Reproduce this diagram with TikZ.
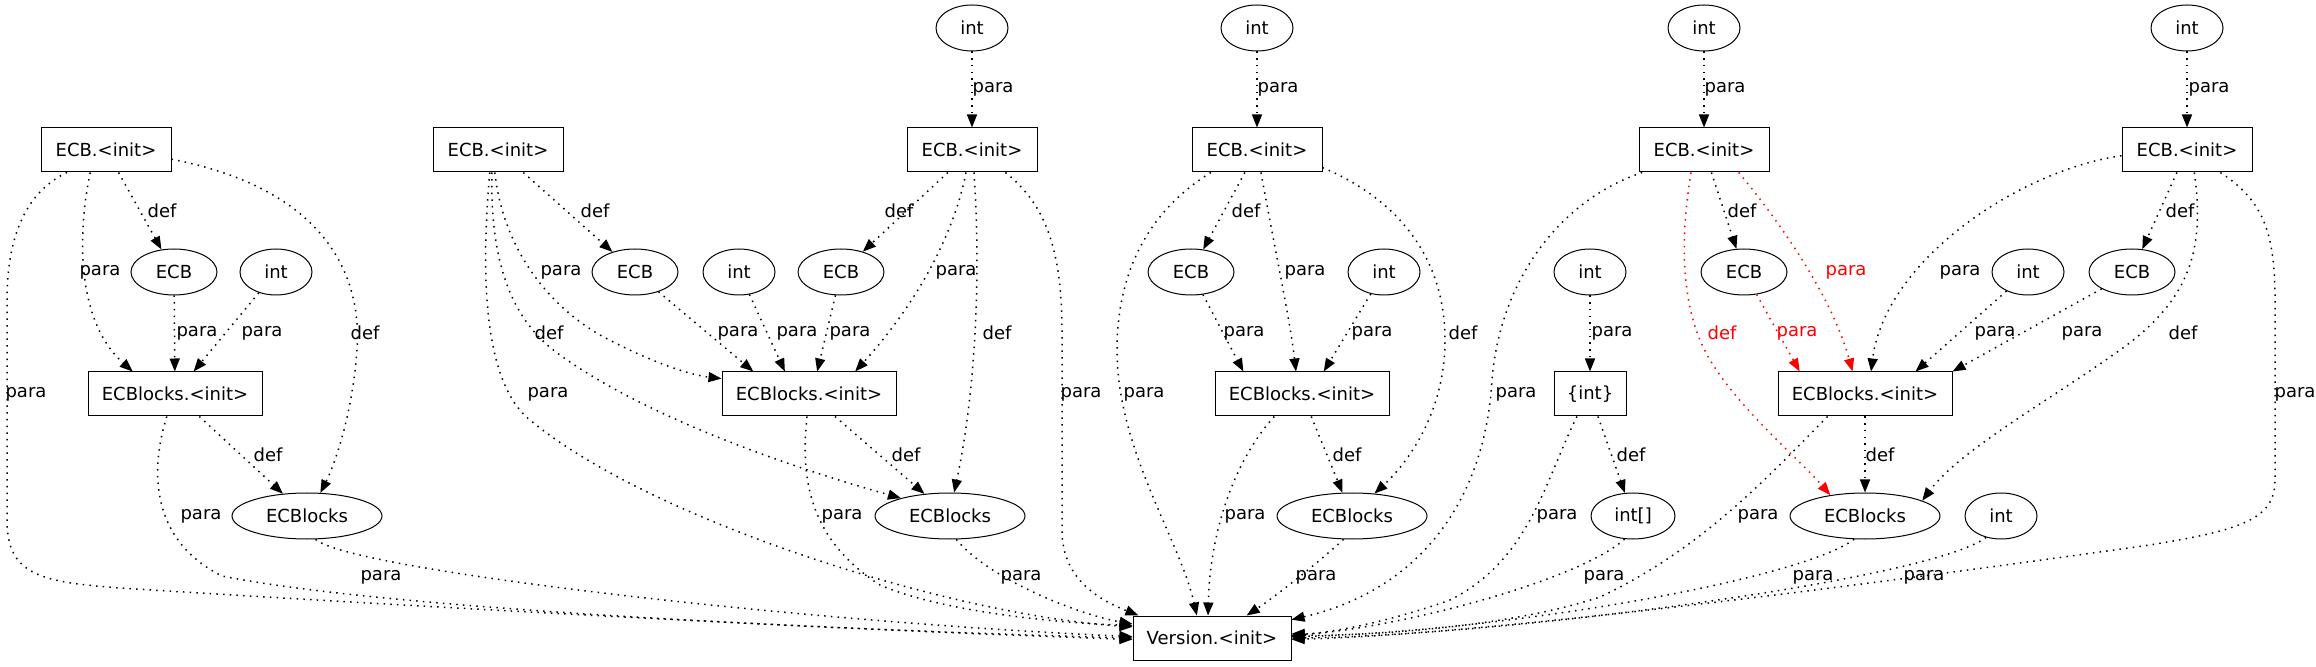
\documentclass[tikz,border=0pt]{standalone}
\usepackage{fontspec}
\setmainfont{DejaVu Sans}
\usetikzlibrary{arrows.meta,shapes.geometric}
\tikzset{
  >={Triangle[length=6.5pt,width=5pt]},
  every node/.style={font=\fontsize{9}{11}\selectfont},
  method/.style={draw,line width=0.5pt,minimum height=22pt,inner sep=1pt},
  initbox/.style={method,minimum width=65pt},
  blockinit/.style={method,minimum width=87pt},
  verbox/.style={method,minimum width=79pt},
  typenode/.style={draw,ellipse,line width=0.5pt,minimum height=23pt,inner sep=0pt},
  inttype/.style={typenode,minimum width=36pt},
  ecbtype/.style={typenode,minimum width=43pt},
  blocktype/.style={typenode,minimum width=75pt},
  dep/.style={->,line width=0.75pt,dash pattern=on 0.75pt off 2.6pt},
  hotdep/.style={dep,draw=red},
  lbl/.style={inner sep=0.5pt},
  hotlbl/.style={lbl,text=red},
}

\begin{document}
\begin{tikzpicture}[x=0.5pt,y=-0.5pt]
\useasboundingbox (0,0) rectangle (2316,667);

% top row
\node[inttype] (intC) at (972,28) {int};
\node[inttype] (intD) at (1257,28) {int};
\node[inttype] (intE) at (1704,28) {int};
\node[inttype] (intF) at (2187,28) {int};

% constructors
\node[initbox] (initA) at (106,150) {ECB.<init>};
\node[initbox] (initB) at (498,150) {ECB.<init>};
\node[initbox] (initC) at (972,150) {ECB.<init>};
\node[initbox] (initD) at (1257,150) {ECB.<init>};
\node[initbox] (initE) at (1704,150) {ECB.<init>};
\node[initbox] (initF) at (2187,150) {ECB.<init>};

% parameter types
\node[ecbtype] (ecbA) at (174,272) {ECB};
\node[inttype] (intA) at (276,272) {int};
\node[ecbtype] (ecbB) at (635,272) {ECB};
\node[inttype] (intB) at (739,272) {int};
\node[ecbtype] (ecbC) at (841,272) {ECB};
\node[ecbtype] (ecbD) at (1191,272) {ECB};
\node[inttype] (intD2) at (1384,272) {int};
\node[inttype] (intG) at (1590,272) {int};
\node[ecbtype] (ecbE) at (1744,272) {ECB};
\node[inttype] (intF2) at (2028,272) {int};
\node[ecbtype] (ecbF) at (2132,272) {ECB};

% block constructors
\node[blockinit] (blkiA) at (175,394) {ECBlocks.<init>};
\node[blockinit] (blkiB) at (809,394) {ECBlocks.<init>};
\node[blockinit] (blkiD) at (1302,394) {ECBlocks.<init>};
\node[method,minimum width=36pt] (curly) at (1590,394) {\{int\}};
\node[blockinit] (blkiE) at (1865,394) {ECBlocks.<init>};

% defined types
\node[blocktype] (blkA) at (307,516) {ECBlocks};
\node[blocktype] (blkB) at (950,516) {ECBlocks};
\node[blocktype] (blkD) at (1352,516) {ECBlocks};
\node[typenode,minimum width=42pt] (intarr) at (1633,516) {int[]};
\node[blocktype] (blkE) at (1865,516) {ECBlocks};
\node[inttype] (intE3) at (2001,516) {int};

\node[verbox] (ver) at (1212,638) {Version.<init>};

% first group
\draw[dep] (initA) -- (ecbA);
\draw[dep] (initA.235) .. controls (78,230) and (75,320) .. (blkiA.152);
\draw[dep] (ecbA) -- (blkiA);
\draw[dep] (intA) -- (blkiA);
\draw[dep] (initA.352) .. controls (330,190) and (362,280) .. (357,350) .. controls (352,420) and (332,470) .. (blkA.60);
\draw[dep] (initA.210) .. controls (30,190) and (7,230) .. (7,300) -- (7,520) .. controls (7,575) and (40,582) .. (120,588) .. controls (500,612) and (900,632) .. (ver.181);
\draw[dep] (blkiA) -- (blkA);
\draw[dep] (blkiA.250) .. controls (150,470) and (150,540) .. (222,576) .. controls (400,612) and (900,632) .. (ver.180);
\draw[dep] (blkA.290) .. controls (350,570) and (800,622) .. (ver.179);

\node[lbl] (tA1) at (162,211) {def};
\node[lbl] (tA2) at (100,272) {para};
\node[lbl] (tA3) at (197,333) {para};
\node[lbl] (tA4) at (262,333) {para};
\node[lbl] (tA5) at (365,333) {def};
\node[lbl] (tA6) at (26,394) {para};
\node[lbl] (tA7) at (268,455) {def};
\node[lbl] (tA8) at (201,516) {para};
\node[lbl] (tA9) at (381,577) {para};

% second group
\draw[dep] (initB) -- (ecbB);
\draw[dep] (initB.262) .. controls (502,240) and (540,300) .. (600,335) .. controls (650,362) and (690,375) .. (blkiB.170);
\draw[dep] (initB.255) .. controls (490,260) and (510,320) .. (560,355) .. controls (650,420) and (800,470) .. (blkB.160);
\draw[dep] (initB.250) .. controls (482,260) and (480,380) .. (530,420) .. controls (650,520) and (950,615) .. (ver.172);
\draw[dep] (ecbB) -- (blkiB.158);
\draw[dep] (intB) -- (blkiB.137);
\draw[dep] (ecbC) -- (blkiB.70);
\draw[dep] (initC.255) .. controls (955,230) and (920,300) .. (blkiB.26);
\draw[dep] (initC) -- (ecbC);
\draw[dep] (initC.275) .. controls (980,260) and (978,380) .. (blkB.80);
\draw[dep] (initC.326) .. controls (1040,200) and (1062,240) .. (1062,330) -- (1062,530) .. controls (1062,580) and (1100,600) .. (ver.163);
\draw[dep] (intC) -- (initC);
\draw[dep] (blkiB) -- (blkB);
\draw[dep] (blkiB.265) .. controls (800,480) and (810,540) .. (880,585) .. controls (950,615) and (1080,624) .. (ver.171);
\draw[dep] (blkB.285) .. controls (990,580) and (1080,615) .. (ver.170);

\node[lbl] (tB1) at (595,211) {def};
\node[lbl] (tB2) at (561,272) {para};
\node[lbl] (tB3) at (549,333) {def};
\node[lbl] (tB4) at (548,394) {para};
\node[lbl] (tB5) at (738,333) {para};
\node[lbl] (tB6) at (797,333) {para};
\node[lbl] (tB7) at (850,333) {para};
\node[lbl] (tB8) at (956,272) {para};
\node[lbl] (tB9) at (899,211) {def};
\node[lbl] (tB10) at (997,333) {def};
\node[lbl] (tB11) at (1081,394) {para};
\node[lbl] (tB12) at (993,89) {para};
\node[lbl] (tB13) at (906,455) {def};
\node[lbl] (tB14) at (842,516) {para};
\node[lbl] (tB15) at (1021,577) {para};

% third group
\draw[dep] (intD) -- (initD);
\draw[dep] (initD) -- (ecbD);
\draw[dep] (initD.280) .. controls (1275,250) and (1290,320) .. (blkiD.105);
\draw[dep] (initD.345) .. controls (1400,200) and (1445,260) .. (1445,340) .. controls (1445,420) and (1400,470) .. (blkD.45);
\draw[dep] (initD.206) .. controls (1150,210) and (1117,270) .. (1117,350) .. controls (1117,450) and (1180,540) .. (ver.124);
\draw[dep] (ecbD) -- (blkiD.159);
\draw[dep] (intD2) -- (blkiD.46);
\draw[dep] (blkiD) -- (blkD);
\draw[dep] (blkiD.219) .. controls (1235,460) and (1210,530) .. (ver.100);
\draw[dep] (blkD.250) .. controls (1310,570) and (1270,600) .. (ver.33);

\node[lbl] (tD1) at (1278,89) {para};
\node[lbl] (tD2) at (1246,211) {def};
\node[lbl] (tD3) at (1305,272) {para};
\node[lbl] (tD4) at (1463,333) {def};
\node[lbl] (tD5) at (1144,394) {para};
\node[lbl] (tD6) at (1244,333) {para};
\node[lbl] (tD7) at (1372,333) {para};
\node[lbl] (tD8) at (1347,455) {def};
\node[lbl] (tD9) at (1245,516) {para};
\node[lbl] (tD10) at (1316,577) {para};

% int array
\draw[dep] (intG) -- (curly);
\draw[dep] (curly) -- (intarr);
\draw[dep] (curly.240) .. controls (1545,480) and (1530,560) .. (1450,600) .. controls (1380,625) and (1320,634) .. (ver.3);
\draw[dep] (intarr.250) .. controls (1580,580) and (1400,628) .. (ver.2);

\node[lbl] (tG1) at (1612,333) {para};
\node[lbl] (tG2) at (1631,455) {def};
\node[lbl] (tG3) at (1557,516) {para};
\node[lbl] (tG4) at (1604,577) {para};

% fourth group, red path
\draw[dep] (intE) -- (initE);
\draw[dep] (initE) -- (ecbE);
\draw[hotdep] (initE.327) .. controls (1770,210) and (1830,290) .. (blkiE.119);
\draw[hotdep] (initE.240) .. controls (1680,240) and (1680,310) .. (1710,360) .. controls (1740,410) and (1800,460) .. (blkE.149);
\draw[hotdep] (ecbE) -- (blkiE.161);
\draw[dep] (initE.200) .. controls (1560,200) and (1500,280) .. (1492,380) .. controls (1485,500) and (1420,590) .. (ver.13);
\draw[dep] (blkiE) -- (blkE);
\draw[dep] (blkiE.211) .. controls (1765,480) and (1700,550) .. (1600,597) .. controls (1500,630) and (1350,636) .. (ver.2);
\draw[dep] (blkE.245) .. controls (1800,580) and (1500,632) .. (ver.1);
\draw[dep] (intE3.235) .. controls (1930,580) and (1500,636) .. (ver.0);

\node[lbl] (tE1) at (1725,89) {para};
\node[lbl] (tE2) at (1742,211) {def};
\node[hotlbl] (tE3) at (1846,272) {para};
\node[hotlbl] (tE4) at (1722,333) {def};
\node[hotlbl] (tE5) at (1797,333) {para};
\node[lbl] (tE6) at (1516,394) {para};
\node[lbl] (tE7) at (1880,455) {def};
\node[lbl] (tE8) at (1758,516) {para};
\node[lbl] (tE9) at (1813,577) {para};
\node[lbl] (tE10) at (1924,577) {para};

% fifth group
\draw[dep] (intF) -- (initF);
\draw[dep] (initF) -- (ecbF);
\draw[dep] (initF.185) .. controls (2020,170) and (1885,260) .. (blkiE.75);
\draw[dep] (intF2) -- (blkiE.24);
\draw[dep] (ecbF) -- (blkiE.north east);
\draw[dep] (initF.288) .. controls (2205,250) and (2190,300) .. (2120,350) .. controls (2050,400) and (1960,450) .. (blkE.15);
\draw[dep] (initF.326) .. controls (2262,200) and (2275,230) .. (2275,300) -- (2275,480) .. controls (2275,520) and (2240,530) .. (2150,545) .. controls (1900,580) and (1500,634) .. (ver.359);

\node[lbl] (tF1) at (2209,89) {para};
\node[lbl] (tF2) at (2180,211) {def};
\node[lbl] (tF3) at (1960,272) {para};
\node[lbl] (tF4) at (1995,333) {para};
\node[lbl] (tF5) at (2082,333) {para};
\node[lbl] (tF6) at (2183,333) {def};
\node[lbl] (tF7) at (2295,394) {para};

\end{tikzpicture}
\end{document}
